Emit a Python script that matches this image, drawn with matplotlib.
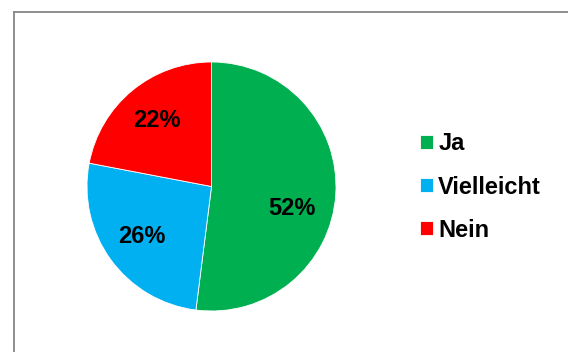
import numpy as np
import matplotlib.pyplot as plt
from matplotlib.lines import Line2D

plt.rcParams['font.family'] = ['Liberation Sans', 'DejaVu Sans']

categories = ["Ja", "Vielleicht", "Nein"]
shares = [52, 26, 22]
colors = ["#00B050", "#00B0F0", "#FF0000"]

W, H = 568, 352
fig = plt.figure(figsize=(W / 100, H / 100), dpi=100)

# chart area frame (runs off the right and bottom edges)
x0, y0 = 13.5 / W, 1 - 11.5 / H
fig.add_artist(Line2D([x0, x0], [0, y0], transform=fig.transFigure,
                      color="#868686", lw=1.3))
fig.add_artist(Line2D([x0, 1], [y0, y0], transform=fig.transFigure,
                      color="#868686", lw=1.3))

# pie axes: center (211.5, 186.5), radius ~124.5 px
r = 124.5
ax = fig.add_axes([(211.5 - r) / W, (H - 186.5 - r) / H, 2 * r / W, 2 * r / H])
wedges, texts, autotexts = ax.pie(
    shares, colors=colors, startangle=90, counterclock=False,
    autopct="%d%%", pctdistance=0.69, radius=1,
    wedgeprops=dict(linewidth=0.6, edgecolor="white"),
    textprops=dict(fontsize=17, fontweight="bold", color="black"))
ax.set_xlim(-1, 1)
ax.set_ylim(-1, 1)
ax.set_aspect("equal")

# best-fit style nudge for the large slice label
ang = np.deg2rad(-15)
autotexts[0].set_position((0.67 * np.cos(ang), 0.67 * np.sin(ang)))

fig.legend(wedges, categories, loc="center left",
           bbox_to_anchor=(420 / W, 1 - 187 / H), frameon=False,
           prop=dict(size=17, weight="bold"), handlelength=0.55,
           handleheight=0.55, handletextpad=0.22, labelspacing=0.85,
           borderpad=0, borderaxespad=0)

fig.savefig("out.png", dpi=100)
